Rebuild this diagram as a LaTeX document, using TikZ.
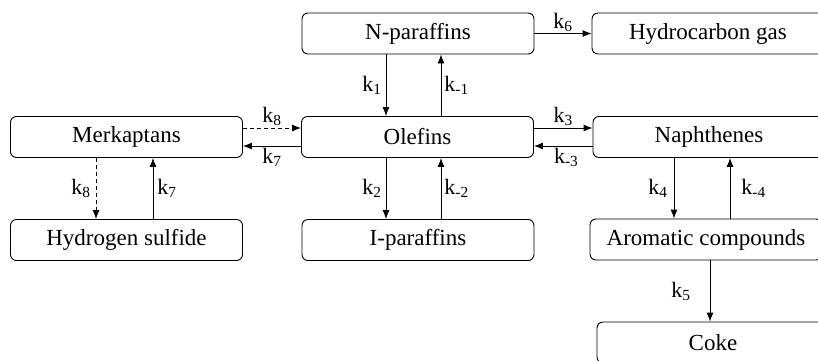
\documentclass[tikz,border=0pt]{standalone}
\usepackage{fontspec}
\setmainfont{Liberation Serif}
\usetikzlibrary{arrows.meta}
\begin{document}
\begin{tikzpicture}[x=1pt,y=-1pt,
  box/.style={draw, line width=0.9pt, rounded corners=6pt, minimum width=232pt, minimum height=41pt, inner sep=0pt, font=\fontsize{23}{27}\selectfont},
  arr/.style={-{Latex[length=9pt,width=7pt]}, line width=0.9pt},
  dasharr/.style={arr, dash pattern=on 4pt off 3pt},
  lbl/.style={font=\fontsize{22}{26}\selectfont, inner sep=1pt}]
\useasboundingbox (0,0) rectangle (818,360);
\clip (0,0) rectangle (818,360);
\node[box] (np) at (418,33.5) {N-paraffins};
\node[box] (hg) at (708,33.5) {Hydrocarbon gas};
\node[box] (mk) at (126.5,137) {Merkaptans};
\node[box] (ol) at (417.5,137) {Olefins};
\node[box] (na) at (709,137) {Naphthenes};
\node[box] (hs) at (126.5,240) {Hydrogen sulfide};
\node[box] (ip) at (418,240) {I-paraffins};
\node[box] (ar) at (706,239.5) {Aromatic compounds};
\node[box] (ck) at (713,342.5) {Coke};
% N-paraffins <-> Olefins
\draw[arr] ([xshift=-32pt]np.south) -- ([xshift=-31.5pt]ol.north) node[lbl,midway,left=3pt]{k\textsubscript{1}};
\draw[arr] ([xshift=23.5pt]ol.north) -- ([xshift=23pt]np.south) node[lbl,midway,right=2pt]{k\textsubscript{-1}};
% N-paraffins -> Hydrocarbon gas
\draw[arr] (np.east) -- (hg.west) node[lbl,midway,above=0pt]{k\textsubscript{6}};
% Olefins <-> Naphthenes
\draw[arr] ([yshift=9pt]ol.east) -- ([yshift=9pt]na.west) node[lbl,midway,above=1pt]{k\textsubscript{3}};
\draw[arr] ([yshift=-9pt]na.west) -- ([yshift=-9pt]ol.east) node[lbl,midway,below=1pt,xshift=3pt]{k\textsubscript{-3}};
% Merkaptans <-> Olefins
\draw[dasharr] ([yshift=9pt]mk.east) -- ([yshift=9pt]ol.west) node[lbl,midway,above=1pt]{k\textsubscript{8}};
\draw[arr] ([yshift=-9pt]ol.west) -- ([yshift=-9pt]mk.east) node[lbl,midway,below=1pt]{k\textsubscript{7}};
% Olefins <-> I-paraffins
\draw[arr] ([xshift=-31.5pt]ol.south) -- ([xshift=-32pt]ip.north) node[lbl,midway,left=3pt]{k\textsubscript{2}};
\draw[arr] ([xshift=23pt]ip.north) -- ([xshift=23.5pt]ol.south) node[lbl,midway,right=2pt]{k\textsubscript{-2}};
% Merkaptans <-> Hydrogen sulfide
\draw[dasharr] ([xshift=-30.5pt]mk.south) -- ([xshift=-30.5pt]hs.north) node[lbl,midway,left=4pt]{k\textsubscript{8}};
\draw[arr] ([xshift=26.5pt]hs.north) -- ([xshift=26.5pt]mk.south) node[lbl,midway,right=3pt]{k\textsubscript{7}};
% Naphthenes <-> Aromatic
\draw[arr] ([xshift=-35pt]na.south) -- ([xshift=-32pt]ar.north) node[lbl,midway,left=5pt]{k\textsubscript{4}};
\draw[arr] ([xshift=24pt]ar.north) -- ([xshift=21pt]na.south) node[lbl,midway,right=10pt]{k\textsubscript{-4}};
% Aromatic -> Coke
\draw[arr] ([xshift=4pt]ar.south) -- ([xshift=-3pt]ck.north) node[lbl,midway,left=18pt]{k\textsubscript{5}};
\end{tikzpicture}
\end{document}
